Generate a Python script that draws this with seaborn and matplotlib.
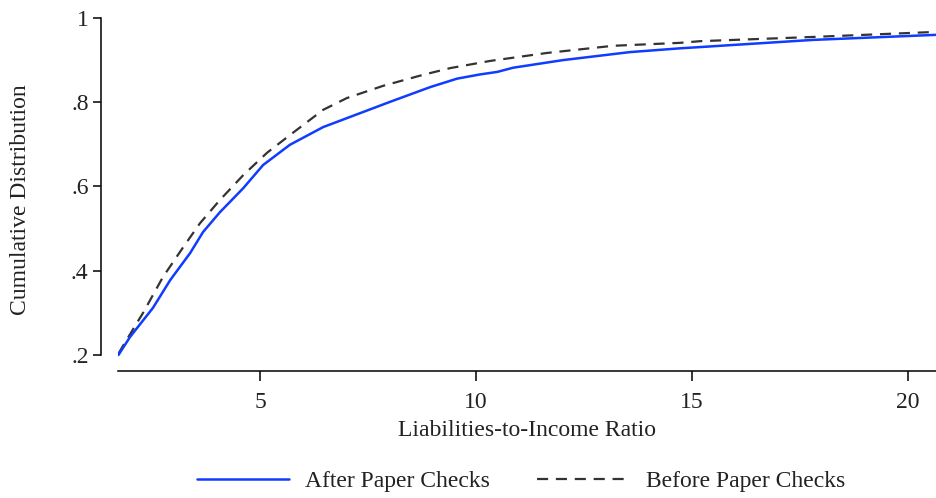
import matplotlib
matplotlib.use("Agg")
import matplotlib.pyplot as plt
import seaborn as sns
import pandas as pd

after_x = [1.72, 1.99, 2.52, 2.92, 3.38, 3.68, 4.07, 4.61, 5.07, 5.69, 6.46, 7.08,
           8.01, 8.94, 9.56, 10.09, 10.49, 10.86, 12.01, 13.56, 14.72, 15.19, 17.80, 20.65]
after_y = [0.200, 0.243, 0.312, 0.378, 0.442, 0.492, 0.539, 0.596, 0.651, 0.699, 0.741, 0.765,
           0.801, 0.836, 0.856, 0.866, 0.872, 0.882, 0.900, 0.919, 0.928, 0.931, 0.948, 0.960]
before_x = [1.72, 1.81, 2.29, 2.75, 3.22, 3.61, 4.07, 4.61, 5.16, 5.69, 6.46, 7.01,
            7.85, 8.77, 9.40, 10.32, 11.64, 13.17, 14.72, 15.19, 17.80, 20.65]
before_y = [0.203, 0.219, 0.300, 0.385, 0.456, 0.513, 0.568, 0.627, 0.680, 0.722, 0.782, 0.810,
            0.839, 0.865, 0.881, 0.898, 0.917, 0.934, 0.941, 0.945, 0.955, 0.967]
x_ticks = [5, 10, 15, 20]
y_ticks = [0.2, 0.4, 0.6, 0.8, 1.0]
y_tick_labels = [".2", ".4", ".6", ".8", "1"]
labels = ["After Paper Checks", "Before Paper Checks"]

sns.set_theme(style="white")
plt.rcParams["font.family"] = ["Liberation Serif", "DejaVu Serif"]

fig = plt.figure(figsize=(9.36, 4.98), dpi=100)
ax = fig.add_axes([118 / 936, 1 - 371 / 498, 1 - 118 / 936, (371 - 18) / 498])

df_a = pd.DataFrame({"x": after_x, "y": after_y})
df_b = pd.DataFrame({"x": before_x, "y": before_y})
sns.lineplot(data=df_b, x="x", y="y", ax=ax, color="#333333", lw=1.6,
             linestyle=(0, (5, 3.5)), label=labels[1])
sns.lineplot(data=df_a, x="x", y="y", ax=ax, color="#0f3cff", lw=1.8, label=labels[0])

ax.set_xlim(1.71, 20.65)
ax.set_ylim(0.162, 1.0)
ax.set_xticks(x_ticks)
ax.set_xticklabels([str(t) for t in x_ticks])
ax.set_yticks(y_ticks)
ax.set_yticklabels(y_tick_labels)

for s in ["top", "right"]:
    ax.spines[s].set_visible(False)
for s in ["left", "bottom"]:
    ax.spines[s].set_color("black")
    ax.spines[s].set_linewidth(1.1)
ax.spines["left"].set_position(("outward", 12.2))
ax.spines["left"].set_bounds(0.2, 1.0)

ax.tick_params(axis="x", which="major", direction="out", length=7, width=1.1,
               color="black", labelsize=17, labelcolor="#222222", bottom=True, pad=8)
ax.tick_params(axis="y", which="major", direction="out", length=6, width=1.1,
               color="black", labelsize=17, labelcolor="#222222", left=True, pad=3)

ax.set_xlabel("Liabilities-to-Income Ratio", fontsize=17, color="#222222")
ax.set_ylabel("Cumulative Distribution", fontsize=17, color="#222222")
ax.xaxis.set_label_coords((527 - 118) / 818, -0.14)
ax.yaxis.set_label_coords((31 - 118) / 818, (371 - 200) / 353)

h, l = ax.get_legend_handles_labels()
ax.get_legend().remove()
order = [l.index(labels[0]), l.index(labels[1])]
fig.legend([h[i] for i in order], [l[i] for i in order], loc="center",
           bbox_to_anchor=(521 / 936, 1 - 481 / 498),
           ncol=2, frameon=False, fontsize=17, handlelength=3.9, handletextpad=0.7,
           columnspacing=2.0, labelcolor="#222222")

fig.savefig("out.png", dpi=100)
